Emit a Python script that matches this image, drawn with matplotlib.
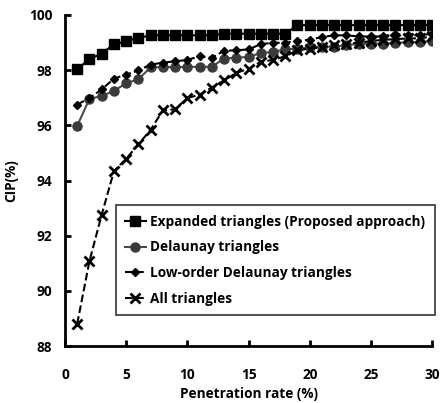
import matplotlib
matplotlib.use("Agg")
import matplotlib.pyplot as plt

penetration = list(range(1, 31))
expanded = [98.03, 98.40, 98.60, 98.93, 99.05, 99.17, 99.26, 99.26, 99.26, 99.26,
            99.26, 99.26, 99.32, 99.32, 99.32, 99.32, 99.32, 99.32, 99.63, 99.63,
            99.63, 99.63, 99.63, 99.63, 99.63, 99.63, 99.63, 99.63, 99.63, 99.63]
delaunay = [95.98, 96.96, 97.06, 97.25, 97.52, 97.67, 98.10, 98.11, 98.11, 98.12,
            98.12, 98.12, 98.42, 98.45, 98.48, 98.62, 98.66, 98.75, 98.78, 98.82,
            98.85, 98.85, 98.90, 98.96, 98.96, 98.96, 98.99, 99.01, 99.01, 99.06]
low_order = [96.75, 96.99, 97.30, 97.69, 97.84, 97.99, 98.20, 98.27, 98.32, 98.37,
             98.50, 98.45, 98.70, 98.72, 98.75, 98.94, 98.99, 98.99, 99.06, 99.10,
             99.20, 99.26, 99.26, 99.22, 99.22, 99.22, 99.32, 99.26, 99.26, 99.32]
all_tri = [88.81, 91.08, 92.76, 94.34, 94.79, 95.31, 95.84, 96.54, 96.58, 96.99,
           97.11, 97.37, 97.63, 97.90, 98.05, 98.30, 98.37, 98.50, 98.72, 98.78,
           98.82, 98.90, 98.95, 99.00, 99.05, 99.10, 99.12, 99.15, 99.15, 99.22]
labels = ["Expanded triangles (Proposed approach)", "Delaunay triangles",
          "Low-order Delaunay triangles", "All triangles"]
xticks = [0, 5, 10, 15, 20, 25, 30]
yticks = [88, 90, 92, 94, 96, 98, 100]

plt.rcParams['font.family'] = ['Open Sans', 'DejaVu Sans']
plt.rcParams['font.weight'] = 'bold'

fig = plt.figure(figsize=(4.45, 4.03), dpi=100)
ax = fig.add_axes([0.146, 0.141, 0.825, 0.822])

ax.plot(penetration, expanded, '-', color='black', lw=1.5, marker='s', ms=7.5,
        label=labels[0], zorder=5)
ax.plot(penetration, delaunay, '-', color='#4a4a4a', lw=1.5, marker='o', ms=6.5,
        mfc='#3a3a3a', mec='#3a3a3a', label=labels[1], zorder=3)
ax.plot(penetration, low_order, '--', color='black', lw=1.5, marker='D', ms=4.5,
        label=labels[2], zorder=4)
ax.plot(penetration, all_tri, '--', color='black', lw=1.5, marker='x', ms=6.5,
        mew=2, label=labels[3], zorder=4)

ax.set_xlim(0, 30)
ax.set_ylim(88, 100)
ax.set_xticks(xticks)
ax.set_yticks(yticks)
for s in ['top', 'right']:
    ax.spines[s].set_visible(False)
for s in ['left', 'bottom']:
    ax.spines[s].set_linewidth(2)
ax.tick_params(direction='in', length=4, width=2, labelsize=9.8)
ax.tick_params(axis='x', pad=16)
ax.tick_params(axis='y', pad=9)
for t in ax.get_xticklabels() + ax.get_yticklabels():
    t.set_fontweight('bold')
ax.set_xlabel("Penetration rate (%)", fontsize=9.8, fontweight='bold', labelpad=3)
ax.set_ylabel("CIP(%)", fontsize=9.8, fontweight='bold', labelpad=8)

leg = ax.legend(loc='upper left', bbox_to_anchor=(0.138, 0.425), frameon=True,
                fancybox=False, edgecolor='black', handlelength=1.5,
                prop={'weight': 'bold', 'size': 9.8}, labelspacing=0.85,
                borderpad=0.7, handletextpad=0.35, borderaxespad=0)
leg.get_frame().set_linewidth(1.2)

fig.savefig("out.png", dpi=100)
